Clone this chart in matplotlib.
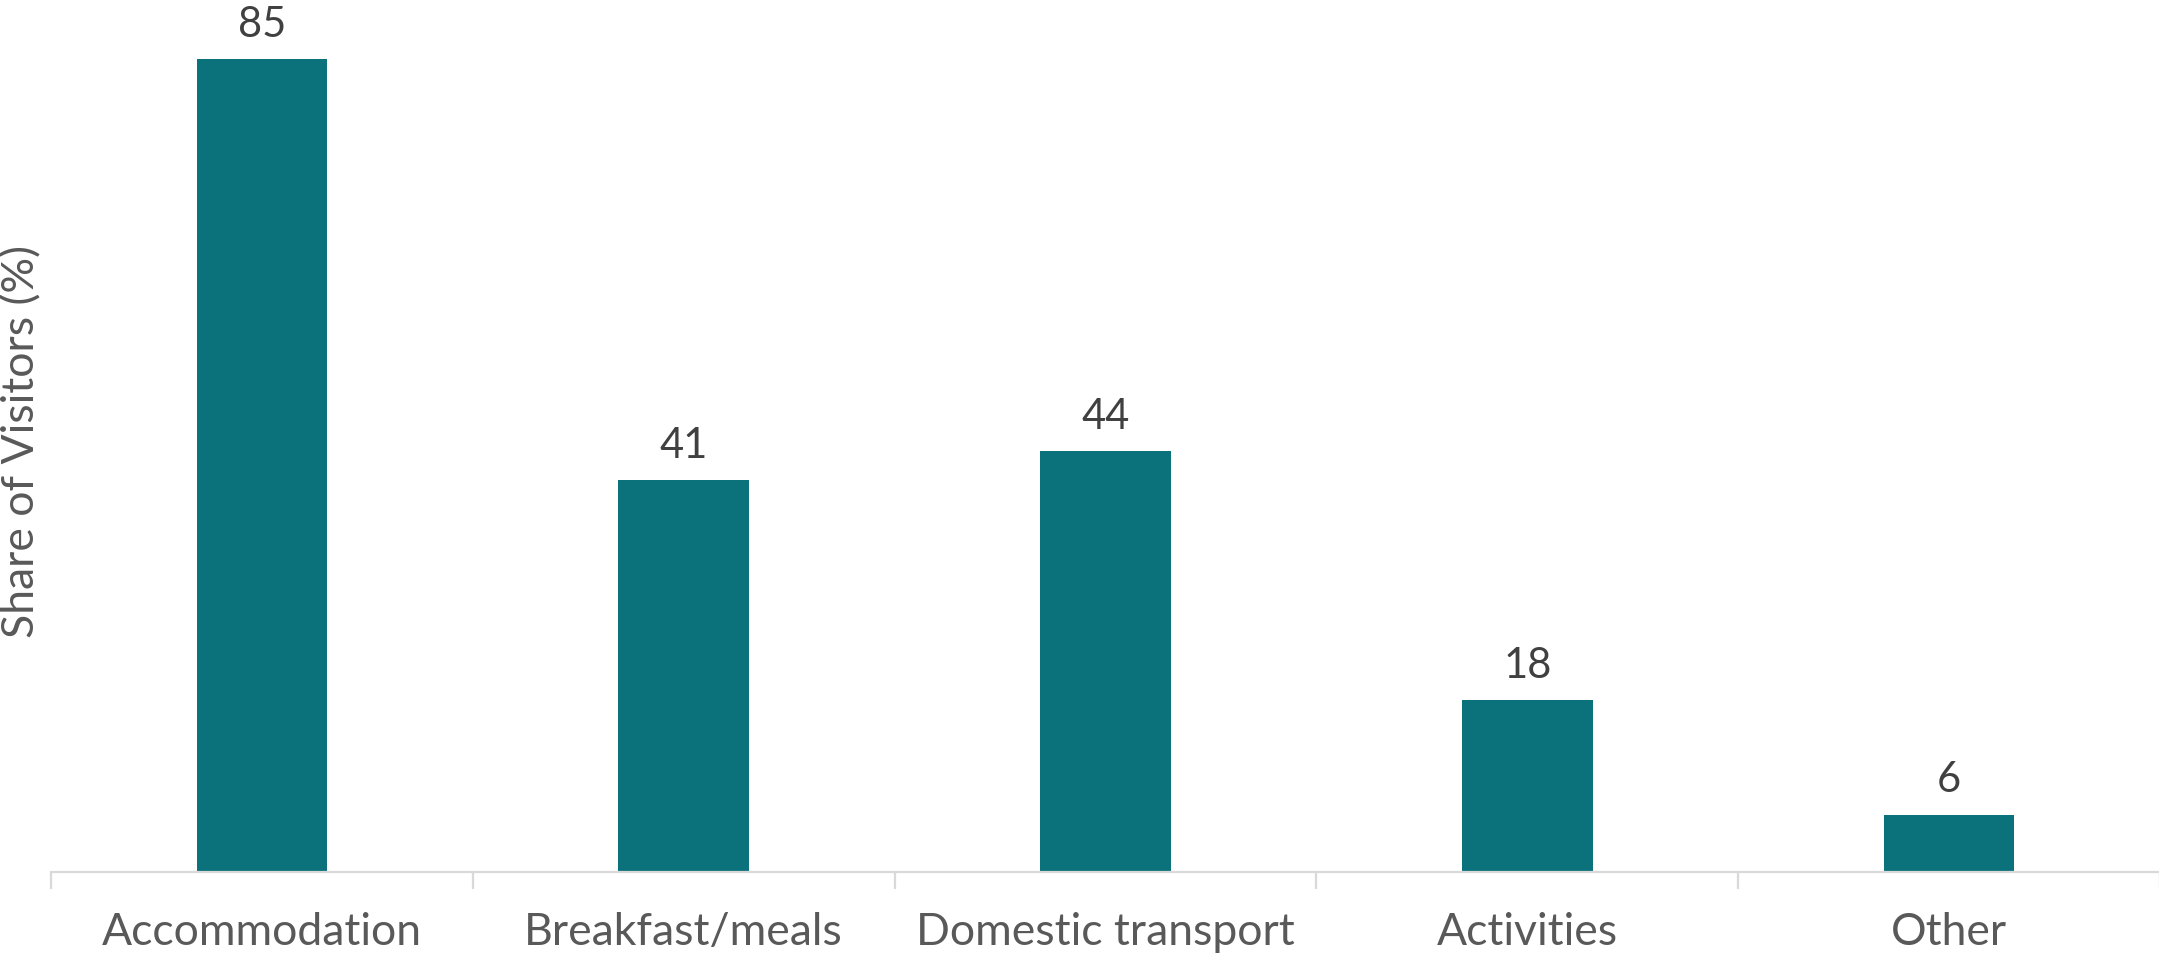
import matplotlib
matplotlib.use("Agg")
import matplotlib.pyplot as plt
import numpy as np

categories = ["Accommodation", "Breakfast/meals", "Domestic transport", "Activities", "Other"]
values = [85, 41, 44, 18, 6]
y_label = "Share of Visitors (%)"

bar_color = "#0B727B"
axis_color = "#D9D9D9"
tick_text_color = "#595959"
value_text_color = "#404040"

plt.rcParams["font.family"] = ["Lato", "DejaVu Sans"]

W, H, DPI = 2159, 956, 100
fig = plt.figure(figsize=(W / DPI, H / DPI), dpi=DPI)
ax = fig.add_axes([51 / W, 84 / H, (2160 - 51) / W, (H - 84) / H])

x = np.arange(len(categories))
ax.bar(x, values, width=0.31, color=bar_color, zorder=2)

ax.set_xlim(-0.5, len(categories) - 0.5)
ax.set_ylim(0, 91.2)

for xi, v in zip(x, values):
    ax.annotate(f"{v}", (xi, v), xytext=(0, 11), textcoords="offset points",
                ha="center", va="bottom", fontsize=30, color=value_text_color)

for side in ["top", "right", "left"]:
    ax.spines[side].set_visible(False)
ax.spines["bottom"].set_color(axis_color)
ax.spines["bottom"].set_linewidth(1.6)

ax.set_yticks([])
ax.set_xticks(x)
ax.set_xticklabels(categories, fontsize=32, color=tick_text_color)
ax.tick_params(axis="x", which="major", length=0, pad=29)
ax.set_xticks(np.arange(-0.5, len(categories)), minor=True)
ax.tick_params(axis="x", which="minor", length=12, width=1.6, color=axis_color)

fig.text(22 / W, (H - 442) / H, y_label, rotation=90, ha="center", va="center",
         fontsize=32, color=tick_text_color)

fig.savefig("out.png", dpi=DPI)
